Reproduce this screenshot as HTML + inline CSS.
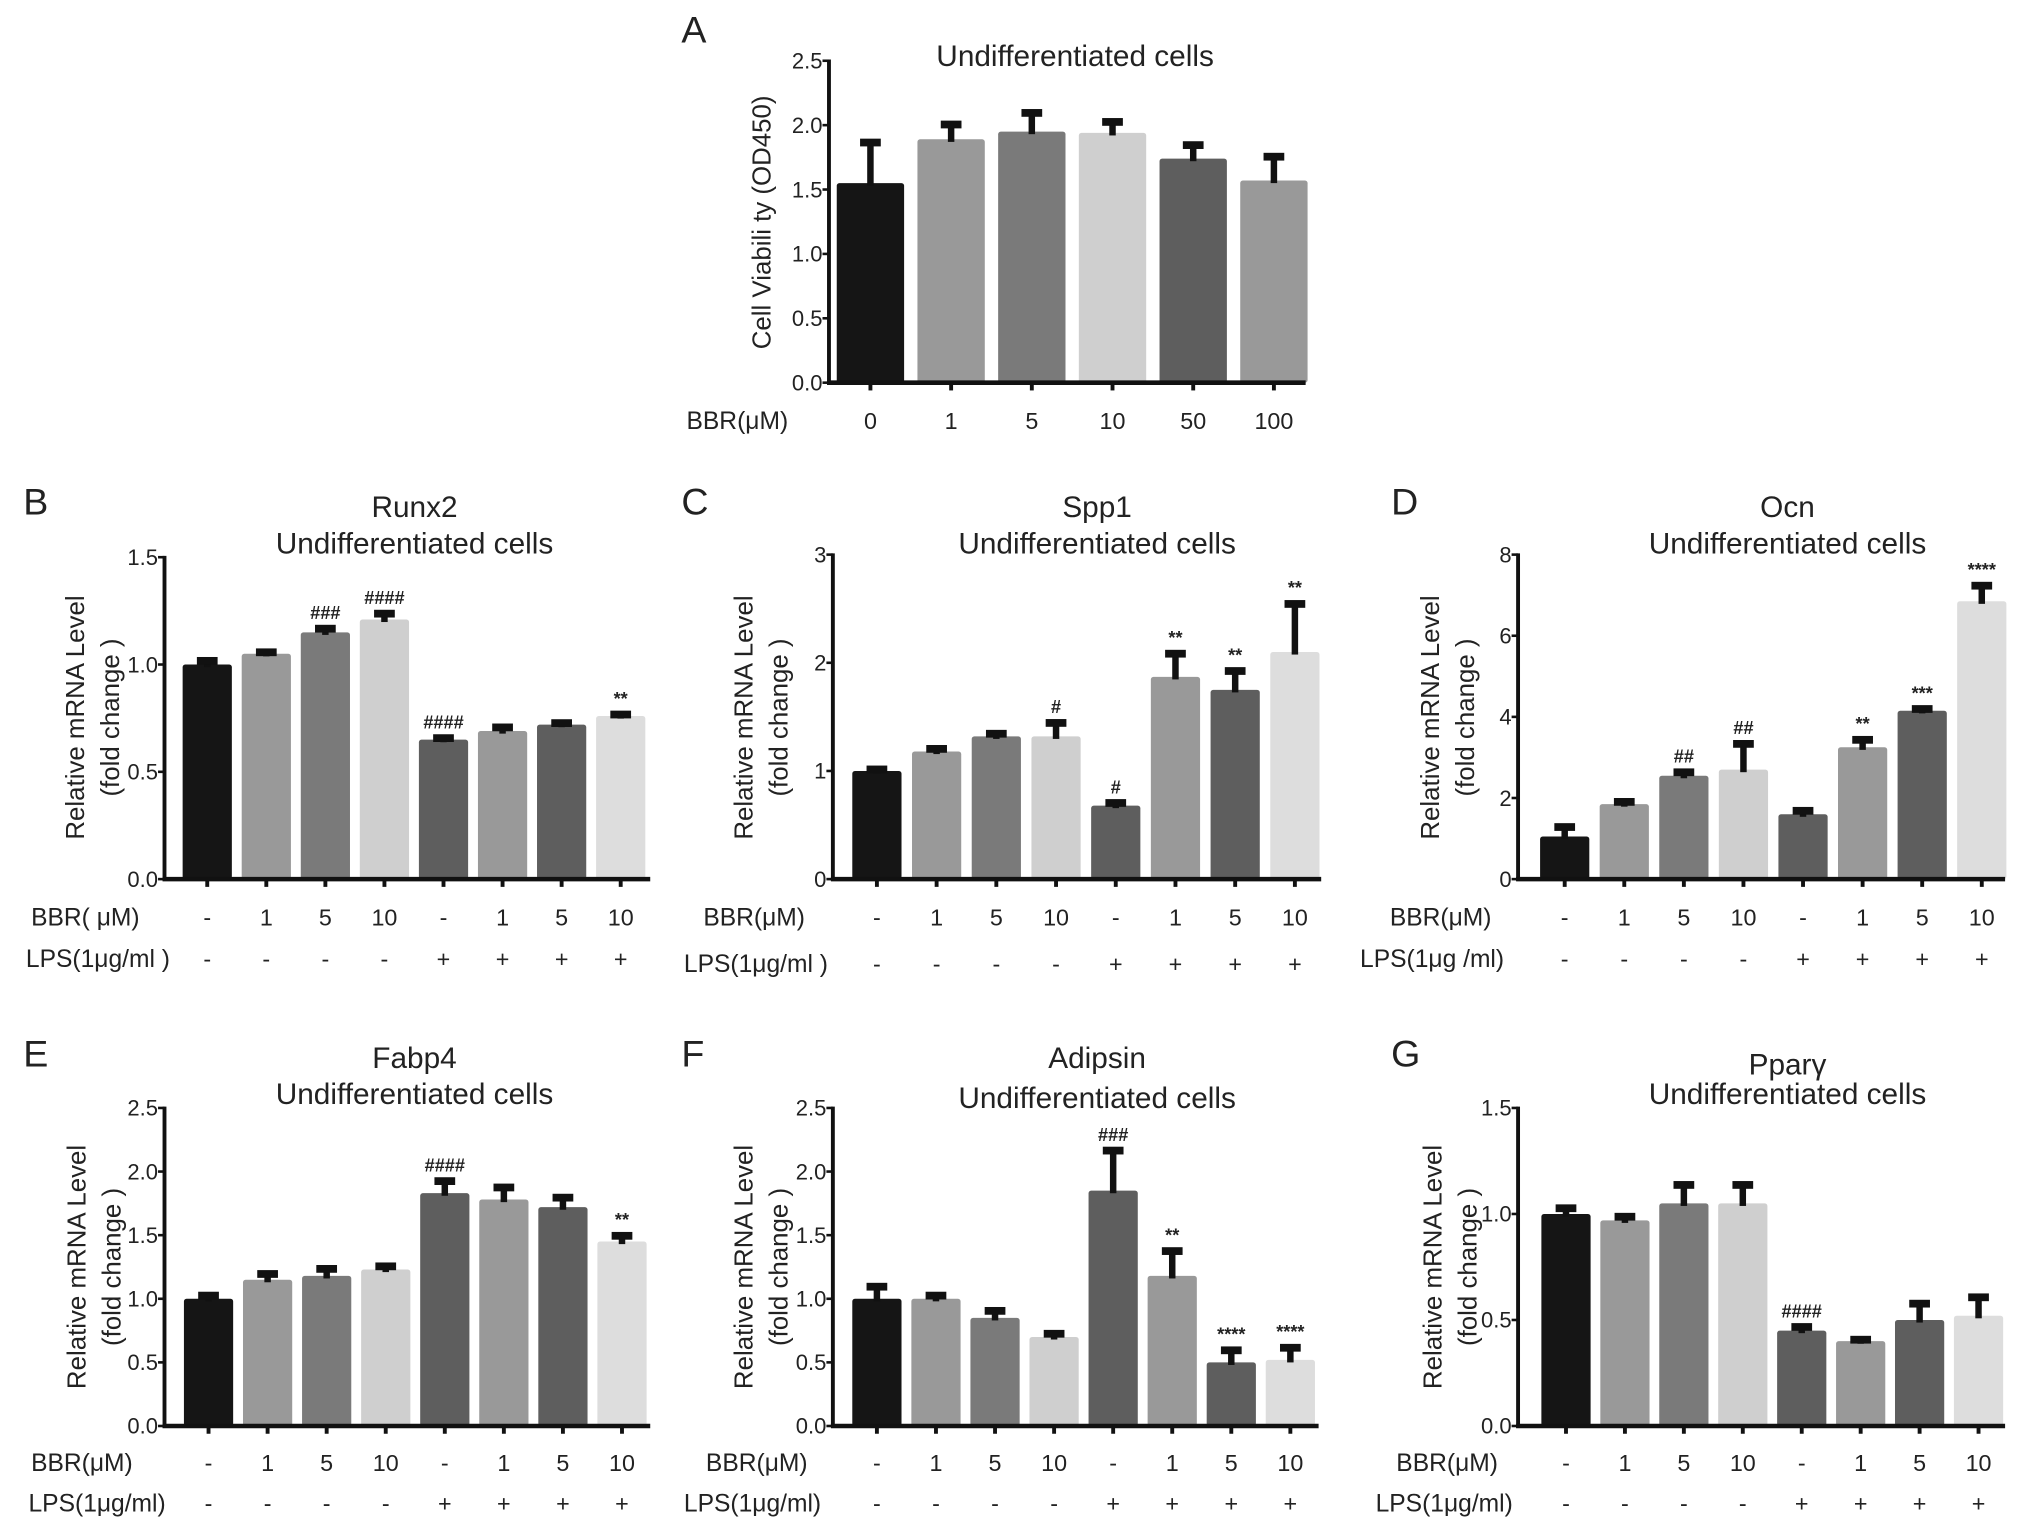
<!DOCTYPE html>
<html><head><meta charset="utf-8"><style>
html,body{margin:0;padding:0;background:#fff}
svg{display:block}
text{font-family:"Liberation Sans",Arial,sans-serif;fill:#222}
</style></head><body>
<svg id="fig" width="2031" height="1532" viewBox="0 0 1568 1185" preserveAspectRatio="none" xmlns="http://www.w3.org/2000/svg"></svg>
<script>
// ---------- data ----------
const catsA = ["0","1","5","10","50","100"];
const valsA = [1.55,1.89,1.95,1.94,1.74,1.57];
const errA  = [0.32,0.12,0.15,0.09,0.11,0.19];
const ticksA = [0,0.5,1.0,1.5,2.0,2.5];

const bbrCats = ["-","1","5","10","-","1","5","10"];
const lpsCats = ["-","-","-","-","+","+","+","+"];

const valsB = [1.0,1.05,1.15,1.21,0.65,0.69,0.72,0.76];
const errB  = [0.02,0.01,0.02,0.03,0.01,0.02,0.01,0.01];
const annB  = ["","","###","####","####","","","**"];
const ticksB = [0,0.5,1.0,1.5];

const valsC = [1.0,1.18,1.32,1.32,0.68,1.87,1.75,2.1];
const errC  = [0.02,0.03,0.03,0.13,0.03,0.22,0.18,0.45];
const annC  = ["","","","#","#","**","**","**"];
const ticksC = [0,1,2,3];

const valsD = [1.05,1.85,2.55,2.7,1.6,3.25,4.15,6.85];
const errD  = [0.25,0.07,0.1,0.65,0.1,0.2,0.06,0.4];
const annD  = ["","","##","##","","**","***","****"];
const ticksD = [0,2,4,6,8];

const valsE = [1.0,1.15,1.18,1.23,1.83,1.78,1.72,1.45];
const errE  = [0.03,0.05,0.06,0.03,0.1,0.1,0.08,0.05];
const annE  = ["","","","","####","","","**"];
const ticksE = [0,0.5,1.0,1.5,2.0,2.5];

const valsF = [1.0,1.0,0.85,0.7,1.85,1.18,0.5,0.52];
const errF  = [0.1,0.03,0.06,0.03,0.32,0.2,0.1,0.1];
const annF  = ["","","","","###","**","****","****"];
const ticksF = [0,0.5,1.0,1.5,2.0,2.5];

const valsG = [1.0,0.97,1.05,1.05,0.45,0.4,0.5,0.52];
const errG  = [0.03,0.02,0.09,0.09,0.02,0.01,0.08,0.09];
const annG  = ["","","","","####","","",""];
const ticksG = [0,0.5,1.0,1.5];

const colors8 = ["#151515","#999999","#7a7a7a","#cfcfcf","#5e5e5e","#999999","#5e5e5e","#dddddd"];
const colors6 = ["#151515","#999999","#7a7a7a","#cfcfcf","#5e5e5e","#999999"];

const svg = document.getElementById('fig');
const NS = "http://www.w3.org/2000/svg";
function mk(tag, attrs, parent){
  const e = document.createElementNS(NS, tag);
  for (const k in attrs) e.setAttribute(k, attrs[k]);
  (parent||svg).appendChild(e);
  return e;
}
function txt(parent, x, y, s, size, anchor, extra){
  const t = mk('text', Object.assign({x:x, y:y, 'font-size':size, 'text-anchor':anchor||'middle'}, extra||{}), parent);
  t.textContent = s;
  return t;
}

function panel(cfg){
  const g = mk('g', {});
  
  
  const yMax = cfg.ticks[cfg.ticks.length-1];
  const ys = v => cfg.y0 - (v / yMax) * (cfg.y0 - cfg.y1);
  const xs = i => cfg.c0 + i * cfg.step;
  const L = txt(g, cfg.lx, cfg.ly, cfg.letter, 29, 'start');
  
  
  cfg.titles.forEach((t, k) => {
    const T = txt(g, cfg.tx, cfg.ty[k], t, 23, 'middle');
    
    
  });
  cfg.ytitle.forEach((t, k) => {
    const Y = txt(g, 0, 0, t, 20, 'middle', {transform:`translate(${cfg.ytx[k]},${cfg.yty}) rotate(-90)`});
    
    
  });
  cfg.vals.forEach((v, i) => {
    const cx = xs(i), top = ys(v);
    const b = mk('rect', {x:cx - cfg.bw/2, y:top, width:cfg.bw, height:cfg.y0 - top, fill:cfg.colors[i], rx:2}, g);
    
    
    const et = ys(v + cfg.err[i]);
    const eb = mk('g', {}, g);
    
    
    mk('rect', {x:cx - 2.5, y:et, width:5, height:Math.max(top - et, 0) + 2, fill:'#111'}, eb);
    mk('rect', {x:cx - 8, y:et - 2.5, width:16, height:6, fill:'#111'}, eb);
    if (cfg.ann && cfg.ann[i]) {
      const a = txt(g, cx, et - 7, cfg.ann[i], 14, 'middle', {'font-weight':'bold'});
      
      
    }
    mk('rect', {x:cx - 1.5, y:cfg.y0, width:3, height:6, fill:'#111'}, g);
  });
  const ya = mk('line', {x1:cfg.ax, y1:cfg.y1 - 1, x2:cfg.ax, y2:cfg.y0 + 1.5, stroke:'#111', 'stroke-width':3}, g);
  
  
  const xa = mk('line', {x1:cfg.ax - 1.5, y1:cfg.y0, x2:cfg.xend, y2:cfg.y0, stroke:'#111', 'stroke-width':3.5}, g);
  
  
  cfg.ticks.forEach(t => {
    const y = ys(t);
    mk('line', {x1:cfg.ax - 5, y1:y, x2:cfg.ax, y2:y, stroke:'#111', 'stroke-width':2}, g);
    const lbl = cfg.tickFmt ? t.toFixed(1) : String(t);
    const tl = txt(g, cfg.ax - 5, y + 6, lbl, 17, 'end', {fill:'#333'});
    
    
  });
  cfg.rows.forEach(r => {
    const rl = txt(g, r.x, r.y, r.label, 19, 'start');
    
    
    r.cats.forEach((c, i) => {
      const cl = txt(g, xs(i), r.y, c, 18, 'middle');
      
      
    });
  });
}

panel({name:'panel-a-viability', letter:'A', lx:526, ly:33, titles:['Undifferentiated cells'], tx:830, ty:[51],
  ytitle:['Cell Viabili ty  (OD450)'], ytx:[595], yty:172,
  ax:640, y0:296, y1:47, xend:1008, c0:672, step:62.3, bw:52,
  vals:valsA, err:errA, colors:colors6, ticks:ticksA, tickFmt:true,
  rows:[{label:'BBR(μM)', x:530, y:332, cats:catsA}]});

const common = {step:45.6, bw:38};
panel(Object.assign({name:'panel-b-runx2', letter:'B', lx:18, ly:398, titles:['Runx2','Undifferentiated cells'], tx:320, ty:[400,428],
  ytitle:['Relative mRNA Level','(fold  change )'], ytx:[65,92], yty:555,
  ax:127, y0:680, y1:431, xend:502, c0:160,
  vals:valsB, err:errB, ann:annB, colors:colors8, ticks:ticksB, tickFmt:true,
  rows:[{label:'BBR( μM)', x:24, y:716, cats:bbrCats},{label:'LPS(1μg/ml )', x:20, y:748, cats:lpsCats}]}, common));

panel(Object.assign({name:'panel-c-spp1', letter:'C', lx:526, ly:398, titles:['Spp1','Undifferentiated cells'], tx:847, ty:[400,428],
  ytitle:['Relative mRNA Level','(fold  change )'], ytx:[581,608], yty:555,
  ax:643, y0:680, y1:429, xend:1020, c0:677, step:46.1,
  vals:valsC, err:errC, ann:annC, colors:colors8, ticks:ticksC, tickFmt:false,
  rows:[{label:'BBR(μM)', x:543, y:716, cats:bbrCats},{label:'LPS(1μg/ml )', x:528, y:752, cats:lpsCats}]}, {bw:38}));

panel(Object.assign({name:'panel-d-ocn', letter:'D', lx:1074, ly:398, titles:['Ocn','Undifferentiated cells'], tx:1380, ty:[400,428],
  ytitle:['Relative mRNA Level','(fold  change )'], ytx:[1111,1138], yty:555,
  ax:1172, y0:680, y1:429, xend:1548, c0:1208, step:46,
  vals:valsD, err:errD, ann:annD, colors:colors8, ticks:ticksD, tickFmt:false,
  rows:[{label:'BBR(μM)', x:1073, y:716, cats:bbrCats},{label:'LPS(1μg /ml)', x:1050, y:748, cats:lpsCats}]}, {bw:38}));

panel(Object.assign({name:'panel-e-fabp4', letter:'E', lx:18, ly:825, titles:['Fabp4','Undifferentiated cells'], tx:320, ty:[826,854],
  ytitle:['Relative mRNA Level','(fold  change )'], ytx:[66,93], yty:980,
  ax:127, y0:1103, y1:857, xend:502, c0:161,
  vals:valsE, err:errE, ann:annE, colors:colors8, ticks:ticksE, tickFmt:true,
  rows:[{label:'BBR(μM)', x:24, y:1138, cats:bbrCats},{label:'LPS(1μg/ml)', x:22, y:1169, cats:lpsCats}]}, common));

panel(Object.assign({name:'panel-f-adipsin', letter:'F', lx:526, ly:825, titles:['Adipsin','Undifferentiated cells'], tx:847, ty:[826,857],
  ytitle:['Relative mRNA Level','(fold  change )'], ytx:[581,608], yty:980,
  ax:643, y0:1103, y1:857, xend:1018, c0:677, step:45.6,
  vals:valsF, err:errF, ann:annF, colors:colors8, ticks:ticksF, tickFmt:true,
  rows:[{label:'BBR(μM)', x:545, y:1138, cats:bbrCats},{label:'LPS(1μg/ml)', x:528, y:1169, cats:lpsCats}]}, {bw:38}));

panel(Object.assign({name:'panel-g-pparg', letter:'G', lx:1074, ly:825, titles:['Pparγ','Undifferentiated cells'], tx:1380, ty:[831,854],
  ytitle:['Relative mRNA Level','(fold  change )'], ytx:[1113,1140], yty:980,
  ax:1172, y0:1103, y1:857, xend:1548, c0:1209, step:45.5,
  vals:valsG, err:errG, ann:annG, colors:colors8, ticks:ticksG, tickFmt:true,
  rows:[{label:'BBR(μM)', x:1078, y:1138, cats:bbrCats},{label:'LPS(1μg/ml)', x:1062, y:1169, cats:lpsCats}]}, {bw:38}));
</script>
</body></html>
